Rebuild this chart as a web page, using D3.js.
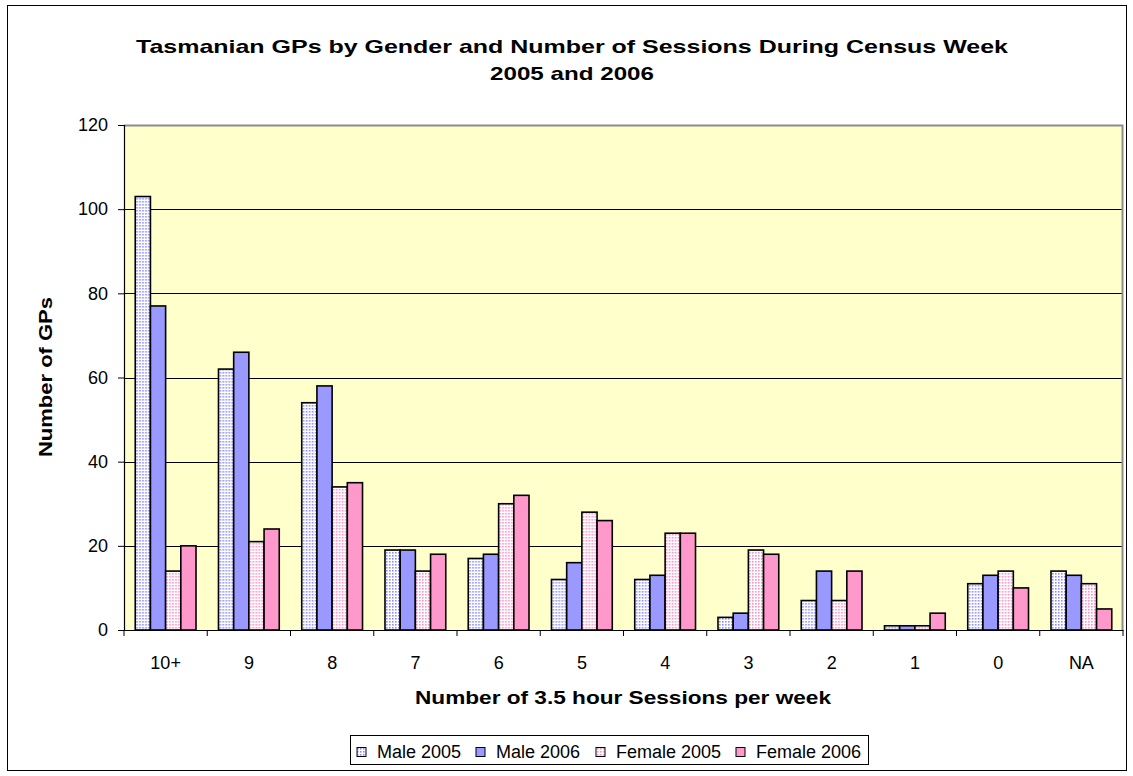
<!DOCTYPE html>
<html>
<head>
<meta charset="utf-8">
<script src="https://cdn.jsdelivr.net/npm/d3@7"></script>
<style>
  body { margin: 0; background: #fff; }
  svg { font-family: "Liberation Sans", Arial, sans-serif; }
</style>
</head>
<body>
<div id="chart"></div>
<script>
const categories = ["10+", "9", "8", "7", "6", "5", "4", "3", "2", "1", "0", "NA"];
const seriesNames = ["Male 2005", "Male 2006", "Female 2005", "Female 2006"];
const male2005 = [103, 62, 54, 19, 17, 12, 12, 3, 7, 1, 11, 14];
const male2006 = [77, 66, 58, 19, 18, 16, 13, 4, 14, 1, 13, 13];
const female2005 = [14, 21, 34, 14, 30, 28, 23, 19, 7, 1, 14, 11];
const female2006 = [20, 24, 35, 18, 32, 26, 23, 18, 14, 4, 10, 5];
const yTicks = [0, 20, 40, 60, 80, 100, 120];

const W = 1133, H = 776;
const margin = {left: 124, top: 125};
const pw = 1123 - margin.left, ph = 630 - margin.top;

const svg = d3.select("#chart").append("svg")
    .attr("width", W).attr("height", H);

// dotted fills for the 2005 series
const defs = svg.append("defs");
function dotPattern(id, col){
    let p = defs.append("pattern").attr("id", id)
        .attr("width", 3).attr("height", 3)
        .attr("patternUnits", "userSpaceOnUse");
    p.append("rect").attr("width", 3).attr("height", 3).attr("fill", "#fff");
    p.append("rect").attr("x", 1).attr("y", 1).attr("width", 1.6).attr("height", 1.6).attr("fill", col);
}
dotPattern("dotBlue", "#8f8fff");
dotPattern("dotPink", "#ff90c8");
const fills = ["url(#dotBlue)", "#9999ff", "url(#dotPink)", "#ff99cc"];

// outer frame
svg.append("rect").attr("x", 7.5).attr("y", 5.5).attr("width", 1119).attr("height", 765)
    .attr("fill", "#fff").attr("stroke", "#000").attr("stroke-width", 1);

// title (Excel renders it wider than the font metrics, so stretch to match)
svg.append("text").attr("x", 572).attr("y", 53).attr("text-anchor", "middle")
    .attr("font-size", 19).attr("font-weight", "bold")
    .attr("textLength", 872).attr("lengthAdjust", "spacingAndGlyphs")
    .text("Tasmanian GPs by Gender and Number of Sessions During Census Week");
svg.append("text").attr("x", 572).attr("y", 80).attr("text-anchor", "middle")
    .attr("font-size", 19).attr("font-weight", "bold")
    .attr("textLength", 164).attr("lengthAdjust", "spacingAndGlyphs")
    .text("2005 and 2006");

const g = svg.append("g").attr("transform", `translate(${margin.left},${margin.top})`);

const x = d3.scaleBand().domain(categories).range([0, pw]).paddingInner(0.27).paddingOuter(0.135);
const x1 = d3.scaleBand().domain(d3.range(4)).range([0, x.bandwidth()]);
const y = d3.scaleLinear().domain([0, 120]).range([ph, 0]);

g.append("rect").attr("width", pw).attr("height", ph).attr("fill", "#ffffcc");

// grid
g.selectAll("line.grid").data(yTicks.slice(1, -1)).enter().append("line")
    .attr("x1", 0).attr("x2", pw)
    .attr("y1", d => Math.round(y(d)) + 0.5).attr("y2", d => Math.round(y(d)) + 0.5)
    .attr("stroke", "#000").attr("stroke-width", 1);

// plot border top/right
g.append("path").attr("d", `M0,0.5H${pw - 0.5}V${ph}`).attr("fill", "none")
    .attr("stroke", "#8c8c8c").attr("stroke-width", 2);

const data = [male2005, male2006, female2005, female2006];
const rows = categories.map((c, i) => ({cat: c, vals: data.map(s => s[i])}));

const groups = g.selectAll("g.grp").data(rows).enter().append("g")
    .attr("transform", d => `translate(${x(d.cat)},0)`);
groups.selectAll("rect").data(d => d.vals.map((v, k) => ({v, k}))).enter().append("rect")
    .attr("x", d => x1(d.k))
    .attr("y", d => y(d.v))
    .attr("width", x1.bandwidth())
    .attr("height", d => ph - y(d.v))
    .attr("fill", d => fills[d.k])
    .attr("stroke", "#000").attr("stroke-width", 1.6);

// axes
const yAxis = g.append("g").call(d3.axisLeft(y).tickValues(yTicks).tickSize(6).tickPadding(10));
const xAxis = g.append("g").attr("transform", `translate(0,${ph})`)
    .call(d3.axisBottom(x).tickSize(0).tickPadding(26));
[yAxis, xAxis].forEach(a => {
    a.attr("font-family", null);
    a.select(".domain").attr("stroke", "#000").attr("stroke-width", 1.2);
    a.selectAll("text").attr("font-size", 18).attr("fill", "#000");
    a.selectAll(".tick line").attr("stroke", "#000");
});
// category separator ticks on x axis
g.selectAll("line.xt").data(d3.range(categories.length + 1)).enter().append("line")
    .attr("x1", d => d * pw / categories.length).attr("x2", d => d * pw / categories.length)
    .attr("y1", ph).attr("y2", ph + 6).attr("stroke", "#000");

// axis titles
svg.append("text").attr("x", 623).attr("y", 704).attr("text-anchor", "middle")
    .attr("font-size", 19).attr("font-weight", "bold")
    .attr("textLength", 416).attr("lengthAdjust", "spacingAndGlyphs")
    .text("Number of 3.5 hour Sessions per week");
svg.append("text").attr("transform", "translate(52,377) rotate(-90)").attr("text-anchor", "middle")
    .attr("font-size", 19).attr("font-weight", "bold")
    .attr("textLength", 160).attr("lengthAdjust", "spacingAndGlyphs")
    .text("Number of GPs");

// legend
const lg = svg.append("g").attr("transform", "translate(350,735)");
lg.append("rect").attr("x", 0.5).attr("y", 0.5).attr("width", 518).attr("height", 29)
    .attr("fill", "#fff").attr("stroke", "#000");
const lx = [7, 126, 246, 386];
seriesNames.forEach((n, i) => {
    lg.append("rect").attr("x", lx[i]).attr("y", 12.5).attr("width", 9).attr("height", 9)
        .attr("fill", fills[i]).attr("stroke", "#000");
    lg.append("text").attr("x", lx[i] + 20).attr("y", 23).attr("font-size", 18).text(n);
});
</script>
</body>
</html>
